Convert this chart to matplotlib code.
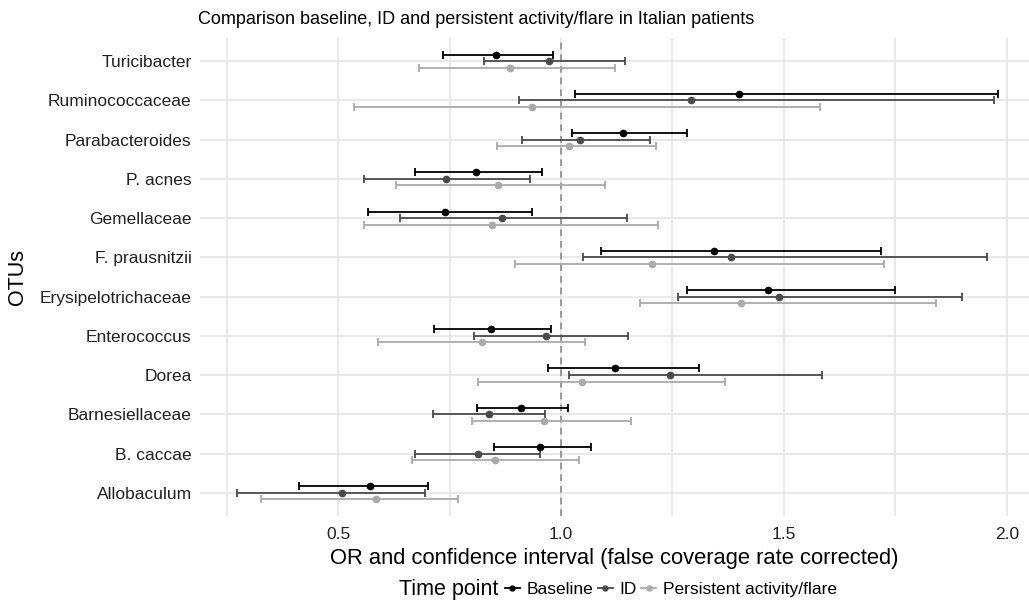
import numpy as np
import matplotlib.pyplot as plt
from matplotlib.lines import Line2D

plt.rcParams['font.family'] = ['Liberation Sans', 'DejaVu Sans']

# categories, listed top to bottom as in the chart
otus = ['Turicibacter', 'Ruminococcaceae', 'Parabacteroides', 'P. acnes', 'Gemellaceae',
        'F. prausnitzii', 'Erysipelotrichaceae', 'Enterococcus', 'Dorea',
        'Barnesiellaceae', 'B. caccae', 'Allobaculum']

# Baseline: OR, lower, upper
base_or = [0.855, 1.400, 1.140, 0.809, 0.740, 1.344, 1.464, 0.844, 1.122, 0.911, 0.953, 0.572]
base_lo = [0.735, 1.031, 1.025, 0.672, 0.568, 1.089, 1.283, 0.716, 0.970, 0.812, 0.850, 0.412]
base_hi = [0.981, 1.980, 1.282, 0.958, 0.936, 1.718, 1.749, 0.978, 1.309, 1.016, 1.067, 0.702]

# ID
id_or = [0.973, 1.292, 1.043, 0.743, 0.868, 1.382, 1.488, 0.966, 1.245, 0.838, 0.813, 0.508]
id_lo = [0.827, 0.906, 0.912, 0.559, 0.638, 1.050, 1.263, 0.804, 1.017, 0.713, 0.672, 0.273]
id_hi = [1.144, 1.972, 1.199, 0.931, 1.149, 1.955, 1.899, 1.150, 1.585, 0.965, 0.953, 0.695]

# Persistent activity/flare
pers_or = [0.886, 0.934, 1.019, 0.858, 0.845, 1.204, 1.403, 0.823, 1.048, 0.962, 0.851, 0.584]
pers_lo = [0.682, 0.536, 0.856, 0.629, 0.558, 0.897, 1.177, 0.589, 0.813, 0.800, 0.666, 0.327]
pers_hi = [1.120, 1.581, 1.214, 1.099, 1.218, 1.724, 1.842, 1.054, 1.367, 1.156, 1.041, 0.769]

series = [
    ('Baseline', base_or, base_lo, base_hi, '#000000', 0.166),
    ('ID', id_or, id_lo, id_hi, '#4a4a4a', 0.0),
    ('Persistent activity/flare', pers_or, pers_lo, pers_hi, '#aaaaaa', -0.166),
]

fig = plt.figure(figsize=(10.29, 6.04), dpi=100)
ax = fig.add_axes([200 / 1029, 1 - 516.3 / 604, 829 / 1029, (516.3 - 37.5) / 604])

ypos = np.arange(len(otus))[::-1]

# grid like theme_minimal
for xv in [0.25, 0.5, 0.75, 1.0, 1.25, 1.5, 1.75, 2.0]:
    ax.axvline(xv, color='#e3e3e3', lw=1.1, zorder=0)
for yv in ypos:
    ax.axhline(yv, color='#e3e3e3', lw=1.1, zorder=0)
ax.axvline(1.0, color='#8c8c8c', lw=1.2, ls=(0, (4, 3)), zorder=1)

for name, orv, lo, hi, col, off in series:
    orv = np.array(orv)
    y = ypos + off
    err = [orv - np.array(lo), np.array(hi) - orv]
    ax.errorbar(orv, y, xerr=err, fmt='o', color=col, ms=4.5, elinewidth=1.3,
                capsize=3, capthick=1.3, zorder=3)

ax.set_xlim(0.19, 2.05)
ax.set_ylim(-0.6, len(otus) - 0.4)
ax.set_yticks(ypos)
ax.set_yticklabels(otus, fontsize=12.5, color='#222222')
ax.set_xticks([0.5, 1.0, 1.5, 2.0])
ax.set_xticklabels(['0.5', '1.0', '1.5', '2.0'], fontsize=12.5, color='#222222')
ax.tick_params(axis='y', length=0, pad=6)
ax.tick_params(axis='x', length=0, pad=8)
for s in ax.spines.values():
    s.set_visible(False)

ax.set_xlabel('OR and confidence interval (false coverage rate corrected)', fontsize=15.8, labelpad=4)
fig.text(18 / 1029, 1 - 277 / 604, 'OTUs', rotation=90, fontsize=15.5, ha='center', va='center')
fig.text(198 / 1029, 1 - 19 / 604, 'Comparison baseline, ID and persistent activity/flare in Italian patients',
         fontsize=13, ha='left', va='center')

# legend at bottom
fig.text(498 / 1029, 1 - 589 / 604, 'Time point', fontsize=15.5, ha='right', va='center')
handles = [Line2D([0], [0], color=c, marker='o', ms=3.5, lw=1.3) for _, _, _, _, c, _ in series]
fig.legend(handles, [s[0] for s in series], loc='center left', ncol=3, frameon=False,
           bbox_to_anchor=(505 / 1029, 1 - 589 / 604), fontsize=12.5, handlelength=0.85,
           handletextpad=0.4, columnspacing=0.25, borderpad=0, borderaxespad=0)

fig.savefig('out.png', dpi=100, facecolor='white')
